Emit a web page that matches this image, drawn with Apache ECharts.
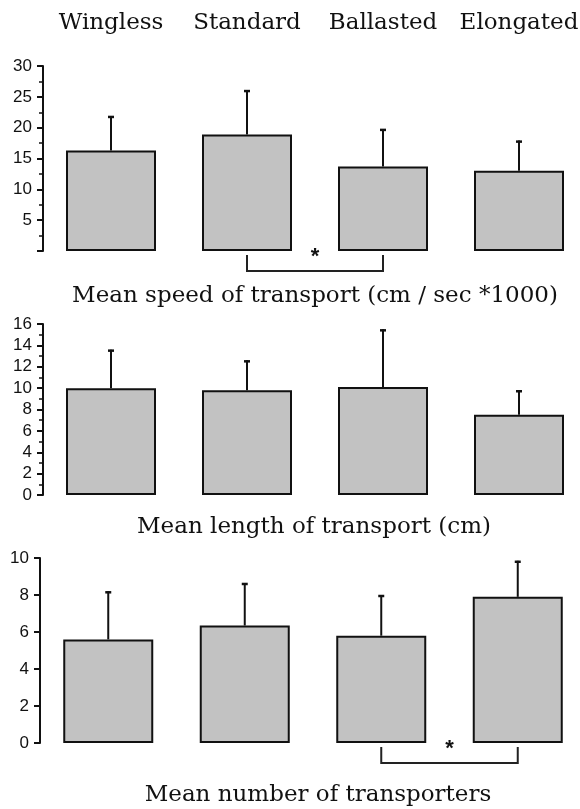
<!DOCTYPE html>
<html>
<head>
<meta charset="utf-8">
<script src="https://cdn.jsdelivr.net/npm/echarts@6/dist/echarts.min.js"></script>
<style>
  html, body { margin: 0; padding: 0; background: #fff; overflow: hidden; }
  #chart { width: 590px; height: 809px; }
</style>
</head>
<body>
<div id="chart"></div>
<script>
const categories = ['Wingless', 'Standard', 'Ballasted', 'Elongated']

// mean speed of transport (cm / sec *1000)
const speedMean = [16.3, 18.9, 13.7, 13.0]
const speedUpper = [21.9, 26.1, 19.8, 17.9]
// mean length of transport (cm)
const lengthMean = [10.0, 9.8, 10.1, 7.5]
const lengthUpper = [13.6, 12.6, 15.5, 9.8]
// mean number of transporters
const numberMean = [5.6, 6.35, 5.8, 7.9]
const numberUpper = [8.2, 8.65, 8.0, 9.85]

// significant pairs (category indexes)
const speedSig = [[1, 2]]
const numberSig = [[2, 3]]

const titles = [
  'Mean speed of transport (cm / sec *1000)',
  'Mean length of transport (cm)',
  'Mean number of transporters',
]

const serif = 'DejaVu Serif'
const sans = 'Liberation Sans'

function errorSeries(idx, mean, upper) {
  return {
    type: 'custom',
    xAxisIndex: idx,
    yAxisIndex: idx,
    z: 3,
    data: mean.map((m, i) => [i, m, upper[i]]),
    renderItem(params, api) {
      const p0 = api.coord([api.value(0), api.value(1)])
      const p1 = api.coord([api.value(0), api.value(2)])
      return {
        type: 'group',
        children: [
          { type: 'line', shape: { x1: p0[0], y1: p0[1], x2: p1[0], y2: p1[1] }, style: { stroke: '#111', lineWidth: 2 } },
          { type: 'line', shape: { x1: p1[0] - 3, y1: p1[1] + 1, x2: p1[0] + 3, y2: p1[1] + 1 }, style: { stroke: '#111', lineWidth: 2.5 } },
        ],
      }
    },
  }
}

function sigSeries(idx, pairs) {
  return {
    type: 'custom',
    xAxisIndex: idx,
    yAxisIndex: idx,
    clip: false,
    data: pairs,
    renderItem(params, api) {
      const a = api.coord([api.value(0), 0])
      const b = api.coord([api.value(1), 0])
      return {
        type: 'group',
        children: [
          {
            type: 'polyline',
            shape: { points: [[a[0], a[1] + 4], [a[0], a[1] + 20], [b[0], b[1] + 20], [b[0], b[1] + 4]] },
            style: { stroke: '#222', lineWidth: 2, fill: null },
          },
          {
            type: 'text',
            x: (a[0] + b[0]) / 2,
            y: a[1] + 6,
            style: { text: '*', align: 'center', verticalAlign: 'middle', fontSize: 22, fontWeight: 'bold', fontFamily: sans, fill: '#111' },
          },
        ],
      }
    },
  }
}

function barSeries(idx, mean) {
  return {
    type: 'bar',
    xAxisIndex: idx,
    yAxisIndex: idx,
    barWidth: 90,
    data: mean,
    itemStyle: { color: '#c2c2c2', borderColor: '#111', borderWidth: 2 },
  }
}

function yAxis(idx, max, interval, minor, hideZero) {
  return {
    type: 'value',
    gridIndex: idx,
    min: 0,
    max: max,
    interval: interval,
    splitLine: { show: false },
    axisLine: { show: true, lineStyle: { color: '#111', width: 2 } },
    axisTick: { show: true, length: 6, lineStyle: { color: '#111', width: 2 } },
    minorTick: { show: minor, splitNumber: 2, length: 4, lineStyle: { color: '#111', width: 1.5 } },
    axisLabel: {
      color: '#111',
      fontFamily: sans,
      fontSize: 17,
      margin: 11,
      formatter: v => (hideZero && v === 0 ? '' : v),
    },
  }
}

function xAxis(idx, showLabels) {
  return {
    type: 'category',
    gridIndex: idx,
    data: categories,
    position: showLabels ? 'top' : 'bottom',
    axisLine: { show: false },
    axisTick: { show: false },
    axisLabel: { show: showLabels, interval: 0, color: '#111', fontFamily: serif, fontSize: 23, margin: 31 },
  }
}

const titleStyle = { align: 'center', verticalAlign: 'middle', fontFamily: serif, fontSize: 23, fill: '#111' }

const chart = echarts.init(document.getElementById('chart'))
chart.setOption({
  animation: false,
  backgroundColor: '#fff',
  grid: [
    { left: 43, top: 66, width: 544, height: 185 },
    { left: 43, top: 324, width: 544, height: 171 },
    { left: 40, top: 558, width: 546, height: 185 },
  ],
  xAxis: [xAxis(0, true), xAxis(1, false), xAxis(2, false)],
  yAxis: [yAxis(0, 30, 5, true, true), yAxis(1, 16, 2, true, false), yAxis(2, 10, 2, false, false)],
  series: [
    barSeries(0, speedMean),
    errorSeries(0, speedMean, speedUpper),
    sigSeries(0, speedSig),
    barSeries(1, lengthMean),
    errorSeries(1, lengthMean, lengthUpper),
    barSeries(2, numberMean),
    errorSeries(2, numberMean, numberUpper),
    sigSeries(2, numberSig),
  ],
  graphic: [
    { type: 'text', x: 315, y: 296, style: Object.assign({ text: titles[0] }, titleStyle) },
    { type: 'text', x: 314, y: 527, style: Object.assign({ text: titles[1] }, titleStyle) },
    { type: 'text', x: 318, y: 795, style: Object.assign({ text: titles[2] }, titleStyle) },
  ],
})
window.addEventListener('resize', () => {
  chart.resize()
})
</script>
</body>
</html>
